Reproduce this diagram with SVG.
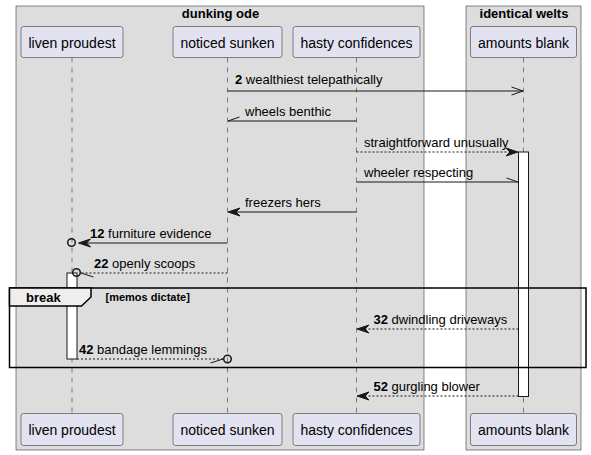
<svg xmlns="http://www.w3.org/2000/svg" width="591" height="455" viewBox="0 0 591 455">
<style>
text{font-family:"Liberation Sans",Arial,sans-serif;fill:#000}
.grp{fill:#DDDDDD;stroke:#181818;stroke-width:0.5}
.gt{font-size:13px;font-weight:bold;text-anchor:middle}
.p rect{fill:#E2E2F0;stroke:#181818;stroke-width:0.5}
.p text{font-size:14px;text-anchor:middle}
.life{stroke:#181818;stroke-width:0.5;stroke-dasharray:5,5}
.act{fill:#FFFFFF;stroke:#181818;stroke-width:1}
.m{font-size:13px}
.n{font-weight:bold}
.ln{stroke:#181818;stroke-width:1;fill:none}
.dt{stroke-dasharray:2,2}
.ah{fill:#181818;stroke:#181818;stroke-width:1}
.cir{fill:none;stroke:#181818;stroke-width:1.5}
</style>
<rect width="591" height="455" fill="#FFFFFF"/>
<g id="box-dunking-ode">
<rect class="grp" x="16" y="6" width="408" height="444"/>
<text class="gt" x="220.5" y="18">dunking ode</text>
</g>
<g id="box-identical-welts">
<rect class="grp" x="466" y="6" width="115" height="444"/>
<text class="gt" x="524" y="18">identical welts</text>
</g>
<g id="lifelines">
<line class="life" x1="72" y1="57.5" x2="72" y2="413.5"/>
<line class="life" x1="227.5" y1="57.5" x2="227.5" y2="413.5"/>
<line class="life" x1="356.5" y1="57.5" x2="356.5" y2="413.5"/>
<line class="life" x1="523.5" y1="57.5" x2="523.5" y2="413.5"/>
</g>
<g id="liven-proudest" class="p">
<rect x="21" y="26.5" width="102" height="31" rx="2.5"/>
<text x="72" y="47.5">liven proudest</text>
<rect x="21" y="413.5" width="102" height="32" rx="2.5"/>
<text x="72" y="435">liven proudest</text>
</g>
<g id="noticed-sunken" class="p">
<rect x="173" y="26.5" width="109" height="31" rx="2.5"/>
<text x="227.5" y="47.5">noticed sunken</text>
<rect x="173" y="413.5" width="109" height="32" rx="2.5"/>
<text x="227.5" y="435">noticed sunken</text>
</g>
<g id="hasty-confidences" class="p">
<rect x="293" y="26.5" width="127" height="31" rx="2.5"/>
<text x="356.5" y="47.5">hasty confidences</text>
<rect x="293" y="413.5" width="127" height="32" rx="2.5"/>
<text x="356.5" y="435">hasty confidences</text>
</g>
<g id="amounts-blank" class="p">
<rect x="470.5" y="26.5" width="106" height="31" rx="2.5"/>
<text x="523.5" y="47.5">amounts blank</text>
<rect x="470.5" y="413.5" width="106" height="32" rx="2.5"/>
<text x="523.5" y="435">amounts blank</text>
</g>
<g id="activations">
<rect class="act" x="518.5" y="152" width="10" height="244.5"/>
<rect class="act" x="67" y="273" width="10" height="86"/>
</g>
<g id="connectors">
<line class="ln" x1="227.5" y1="91" x2="523" y2="91"/>
<polyline class="ln" points="511.5,87 523,91 511.5,95"/>
<text class="m" x="235" y="84"><tspan class="n">2</tspan> wealthiest telepathically</text>

<line class="ln" x1="356.5" y1="121" x2="228" y2="121"/>
<line class="ln" x1="228" y1="121" x2="239.5" y2="117"/>
<text class="m" x="245" y="116">wheels benthic</text>

<line class="ln dt" x1="356.5" y1="152" x2="512" y2="152"/>
<polygon class="ah" points="518,152 506,148 510,152 506,156"/>
<text class="m" x="364" y="147">straightforward unusually</text>

<line class="ln" x1="356.5" y1="182" x2="518" y2="182"/>
<line class="ln" x1="518" y1="182" x2="506.5" y2="178"/>
<text class="m" x="364" y="177">wheeler respecting</text>

<line class="ln" x1="356.5" y1="212" x2="233" y2="212"/>
<polygon class="ah" points="228,212 240,208 236,212 240,216"/>
<text class="m" x="245" y="207">freezers hers</text>

<line class="ln" x1="227.5" y1="243" x2="84" y2="243"/>
<polygon class="ah" points="78.5,243 90.5,239 86.5,243 90.5,247"/>
<circle class="cir" cx="71.5" cy="242.5" r="3.8"/>
<text class="m" x="90" y="238"><tspan class="n">12</tspan> furniture evidence</text>

<line class="ln dt" x1="227.5" y1="273" x2="81" y2="273"/>
<line class="ln" x1="81" y1="273" x2="93.5" y2="277"/>
<circle class="cir" cx="76.5" cy="272.5" r="3.8"/>
<text class="m" x="94" y="268"><tspan class="n">22</tspan> openly scoops</text>

<line class="ln dt" x1="518.5" y1="329" x2="362" y2="329"/>
<polygon class="ah" points="357,329 369,325 365,329 369,333"/>
<text class="m" x="373.5" y="324"><tspan class="n">32</tspan> dwindling driveways</text>

<line class="ln dt" x1="77" y1="359" x2="223" y2="359"/>
<line class="ln" x1="223" y1="359" x2="210.5" y2="363"/>
<circle class="cir" cx="227.5" cy="359" r="3.8"/>
<text class="m" x="79" y="354"><tspan class="n">42</tspan> bandage lemmings</text>

<line class="ln dt" x1="518.5" y1="396" x2="362" y2="396"/>
<polygon class="ah" points="357,396 369,392 365,396 369,400"/>
<text class="m" x="373.5" y="391"><tspan class="n">52</tspan> gurgling blower</text>
</g>
<g id="break-frame">
<rect x="9.5" y="288" width="576.5" height="79.5" fill="none" stroke="#000000" stroke-width="1.5"/>
<path d="M9.5,288 H91 V297 L81.5,306 H9.5 Z" fill="#EEEEEE" stroke="#000000" stroke-width="1.5"/>
<text x="26" y="302" style="font-size:13px;font-weight:bold">break</text>
<text x="105.5" y="301" style="font-size:11px;font-weight:bold">[memos dictate]</text>
</g>
</svg>
